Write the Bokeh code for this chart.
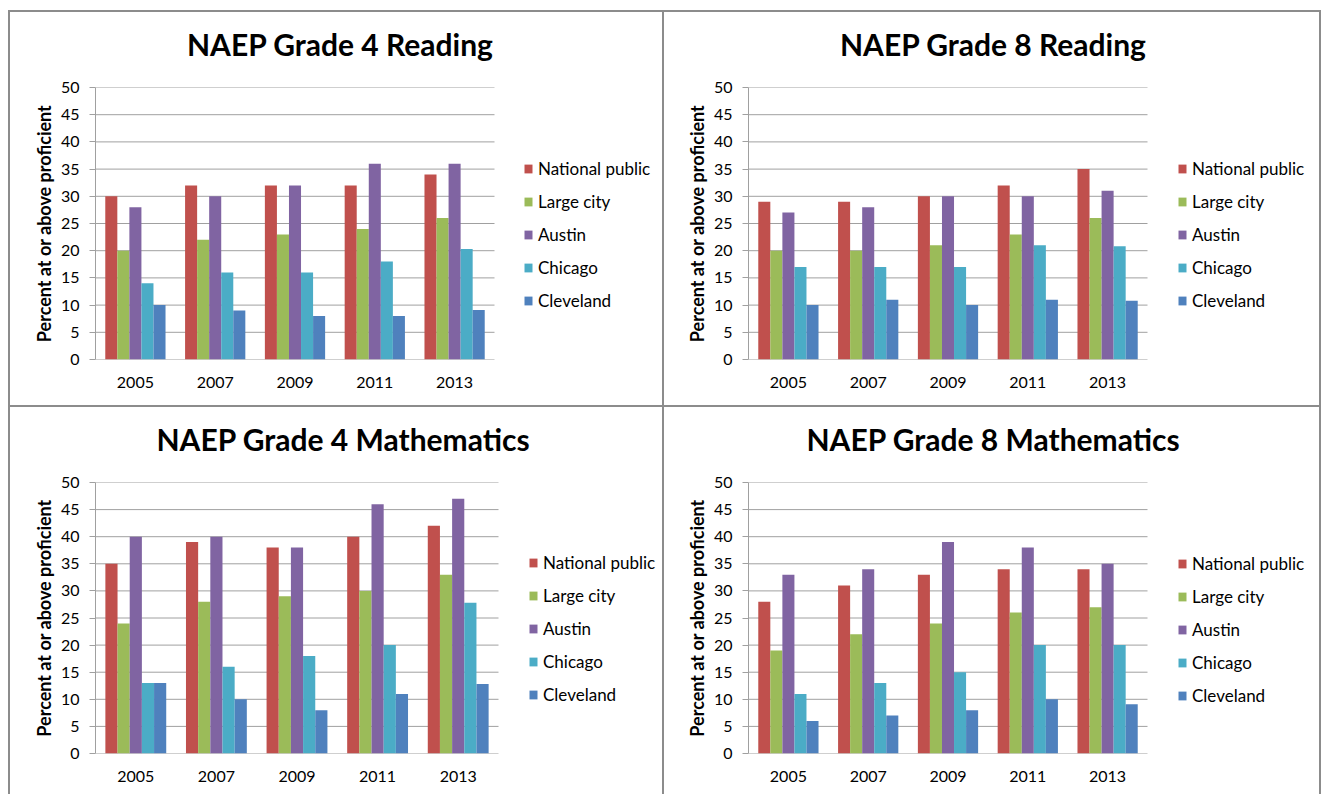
from bokeh.plotting import figure
from bokeh.models import Range1d, Legend, LegendItem, FixedTicker, ColumnDataSource, Spacer, Title
from bokeh.transform import dodge
from bokeh.layouts import column, row
from bokeh.embed import file_html
from bokeh.resources import INLINE

FONT = "Lato"

years = ["2005", "2007", "2009", "2011", "2013"]
series_names = ["National public", "Large city", "Austin", "Chicago", "Cleveland"]
series_colors = ["#C0504D", "#9BBB59", "#8064A2", "#4BACC6", "#4F81BD"]
y_ticks = [0, 5, 10, 15, 20, 25, 30, 35, 40, 45, 50]

# NAEP Grade 4 Reading
g4r_national = [30, 32, 32, 32, 34]
g4r_large_city = [20, 22, 23, 24, 26]
g4r_austin = [28, 30, 32, 36, 36]
g4r_chicago = [14, 16, 16, 18, 20.3]
g4r_cleveland = [10, 9, 8, 8, 9.1]

# NAEP Grade 8 Reading
g8r_national = [29, 29, 30, 32, 35]
g8r_large_city = [20, 20, 21, 23, 26]
g8r_austin = [27, 28, 30, 30, 31]
g8r_chicago = [17, 17, 17, 21, 20.8]
g8r_cleveland = [10, 11, 10, 11, 10.8]

# NAEP Grade 4 Mathematics
g4m_national = [35, 39, 38, 40, 42]
g4m_large_city = [24, 28, 29, 30, 33]
g4m_austin = [40, 40, 38, 46, 47]
g4m_chicago = [13, 16, 18, 20, 27.8]
g4m_cleveland = [13, 10, 8, 11, 12.8]

# NAEP Grade 8 Mathematics
g8m_national = [28, 31, 33, 34, 34]
g8m_large_city = [19, 22, 24, 26, 27]
g8m_austin = [33, 34, 39, 38, 35]
g8m_chicago = [11, 13, 15, 20, 20]
g8m_cleveland = [6, 7, 8, 10, 9.1]

BORDER = "#8c8c8c"
GRID = "#a0a0a0"
BAR_W = 0.151


def make_panel(title, values, w, h, mb_left, cat_right, mb_top, mb_bottom,
               legend_x, legend_y, title_offset, shadow):
    mb_right = 4
    n_cat = len(years)
    centers = [i + 0.5 for i in range(n_cat)]
    # frame extends to the right so the legend fits inside it; categories fill the left part
    x_end = (w - mb_left - mb_right) / ((cat_right - mb_left) / n_cat)
    src = ColumnDataSource(dict(xc=centers, **{f"s{i}": v for i, v in enumerate(values)}))
    p = figure(width=w, height=h, x_range=Range1d(0, x_end), y_range=Range1d(0, 50),
               output_backend="svg", toolbar_location=None,
               min_border_left=mb_left, min_border_right=mb_right,
               min_border_top=mb_top, min_border_bottom=mb_bottom)
    p.border_fill_color = None
    p.background_fill_color = None
    p.outline_line_color = None
    p.styles = {"box-shadow": shadow}

    p.title.text = title
    p.title.align = "left"
    p.title.offset = title_offset
    p.title.text_font = FONT
    p.title.text_font_size = "30px"
    p.title.text_font_style = "bold"
    p.title.text_color = "black"
    p.title.standoff = 0
    # blank spacer between the title and the plot area
    p.add_layout(Title(text=" ", text_font_size="20px", standoff=2), "above")

    # horizontal gridlines across the category area only
    grid_src = ColumnDataSource(dict(y=y_ticks, x0=[0] * len(y_ticks), x1=[n_cat] * len(y_ticks)))
    p.segment(x0="x0", x1="x1", y0="y", y1="y", source=grid_src, line_color=GRID, line_width=1)

    items = []
    n = len(values)
    for i in range(n):
        off = (i - (n - 1) / 2) * BAR_W
        r = p.vbar(x=dodge("xc", off), top=f"s{i}", width=BAR_W,
                   source=src, fill_color=series_colors[i], line_color=None)
        items.append(LegendItem(label=series_names[i], renderers=[r]))

    leg = Legend(items=items, location=(legend_x, legend_y), orientation="vertical",
                 glyph_width=10, glyph_height=11, label_height=20, spacing=12,
                 padding=0, margin=0, label_standoff=5,
                 border_line_color=None, background_fill_alpha=0,
                 label_text_font=FONT, label_text_font_size="17px", label_text_color="black")
    p.add_layout(leg, "center")

    p.xgrid.grid_line_color = None
    p.ygrid.grid_line_color = None

    p.yaxis.ticker = FixedTicker(ticks=y_ticks)
    p.yaxis.axis_line_color = GRID
    p.yaxis.major_tick_line_color = GRID
    p.yaxis.major_tick_out = 6
    p.yaxis.major_tick_in = 0
    p.yaxis.minor_tick_line_color = None
    p.yaxis.major_label_standoff = 10
    p.yaxis.major_label_text_font = FONT
    p.yaxis.major_label_text_font_size = "16px"
    p.yaxis.major_label_text_color = "black"
    p.yaxis.axis_label = "Percent at or above proficient"
    p.yaxis.axis_label_text_font = FONT
    p.yaxis.axis_label_text_font_size = "18px"
    p.yaxis.axis_label_text_font_style = "bold"
    p.yaxis.axis_label_text_color = "black"
    p.yaxis.axis_label_standoff = 3

    p.xaxis.ticker = FixedTicker(ticks=centers)
    p.xaxis.major_label_overrides = {c: y for c, y in zip(centers, years)}
    p.xaxis.axis_line_color = None
    p.xaxis.major_tick_line_color = None
    p.xaxis.minor_tick_line_color = None
    p.xaxis.major_label_standoff = 11
    p.xaxis.major_label_text_font = FONT
    p.xaxis.major_label_text_font_size = "16px"
    p.xaxis.major_label_text_color = "black"
    return p


sh_left = f"inset 2px 0 0 0 {BORDER}, inset 0 2px 0 0 {BORDER}"
sh_right = f"inset 2px 0 0 0 {BORDER}, inset 0 2px 0 0 {BORDER}, inset -2px 0 0 0 {BORDER}"

p1 = make_panel("NAEP Grade 4 Reading",
                [g4r_national, g4r_large_city, g4r_austin, g4r_chicago, g4r_cleveland],
                654, 395, 87, 486, 77, 46, 428, 48, 91.5, sh_left)
p2 = make_panel("NAEP Grade 8 Reading",
                [g8r_national, g8r_large_city, g8r_austin, g8r_chicago, g8r_cleveland],
                659, 395, 86, 485, 77, 46, 429, 48, 91.5, sh_right)
p3 = make_panel("NAEP Grade 4 Mathematics",
                [g4m_national, g4m_large_city, g4m_austin, g4m_chicago, g4m_cleveland],
                654, 389, 87, 490, 74, 41, 433, 48, 61, sh_left)
p4 = make_panel("NAEP Grade 8 Mathematics",
                [g8m_national, g8m_large_city, g8m_austin, g8m_chicago, g8m_cleveland],
                659, 389, 86, 485, 77, 41, 429, 47, 58, sh_right)

layout = column(
    Spacer(width=1321, height=10),
    row(Spacer(width=8, height=395), p1, p2),
    row(Spacer(width=8, height=389), p3, p4),
)

open("out.html", "w").write(file_html(layout, INLINE))
